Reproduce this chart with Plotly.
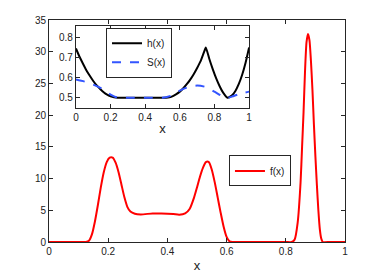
import plotly.graph_objects as go

# main curve f(x)
fx = [0, 0.05, 0.1, 0.125, 0.135, 0.145, 0.155, 0.165, 0.175, 0.185, 0.195, 0.205, 0.215,
      0.225, 0.235, 0.245, 0.255, 0.265, 0.275, 0.29, 0.31, 0.35, 0.38, 0.42, 0.44, 0.46,
      0.475, 0.49, 0.5, 0.51, 0.52, 0.53, 0.54, 0.55, 0.56, 0.57, 0.58, 0.59, 0.6, 0.61,
      0.62, 0.7, 0.8, 0.82, 0.83, 0.84, 0.85, 0.855, 0.86, 0.865, 0.87, 0.875, 0.88, 0.885,
      0.89, 0.895, 0.9, 0.905, 0.91, 0.915, 0.92, 0.925, 0.95, 1.0]
fy = [0, 0, 0, 0, 0.2, 1.2, 3.2, 5.8, 8.6, 11.0, 12.6, 13.3, 13.3,
      12.5, 11.0, 9.0, 7.0, 5.5, 4.8, 4.45, 4.35, 4.5, 4.5, 4.4, 4.3, 4.5,
      5.2, 7.0, 8.6, 10.3, 11.7, 12.6, 12.6, 11.4, 9.4, 7.0, 4.6, 2.4, 0.8, 0.1,
      0, 0, 0, 0, 0.4, 3.0, 9.5, 15.0, 20.5, 27.0, 31.5, 32.8, 31.8, 28.5,
      24.0, 18.5, 13.5, 9.0, 5.0, 2.0, 0.5, 0, 0, 0]

# inset curves
hx = [0, 0.02, 0.04, 0.06, 0.08, 0.1, 0.12, 0.14, 0.16, 0.18, 0.2, 0.22, 0.24, 0.3, 0.4,
      0.5, 0.52, 0.54, 0.56, 0.58, 0.6, 0.62, 0.64, 0.66, 0.68, 0.7, 0.72, 0.74, 0.75,
      0.77, 0.79, 0.81, 0.83, 0.85, 0.875, 0.9, 0.92, 0.94, 0.96, 0.98, 1.0]
hy = [0.745, 0.705, 0.67, 0.637, 0.609, 0.583, 0.561, 0.543, 0.527, 0.515, 0.507, 0.502, 0.5,
      0.5, 0.5, 0.5, 0.5, 0.502, 0.508, 0.518, 0.53, 0.547, 0.567, 0.59, 0.617, 0.648,
      0.682, 0.728, 0.75, 0.694, 0.642, 0.596, 0.557, 0.525, 0.5, 0.51, 0.532, 0.567, 0.614,
      0.675, 0.75]
sx = [0, 0.05, 0.1, 0.15, 0.2, 0.24, 0.3, 0.4, 0.5, 0.55, 0.6, 0.65, 0.7, 0.75, 0.8,
      0.85, 0.875, 0.9, 0.95, 1.0]
sy = [0.59, 0.58, 0.565, 0.545, 0.515, 0.5, 0.5, 0.5, 0.5, 0.51, 0.535, 0.553, 0.56,
      0.553, 0.53, 0.505, 0.5, 0.505, 0.52, 0.53]

main_xticks = [0, 0.2, 0.4, 0.6, 0.8, 1]
main_xlabels = ["0", "0.2", "0.4", "0.6", "0.8", "1"]
main_yticks = [0, 5, 10, 15, 20, 25, 30, 35]
inset_yticks = [0.5, 0.6, 0.7, 0.8]

FONT = "Liberation Sans, Arial, sans-serif"
AX = "#262626"

fig = go.Figure()
fig.add_trace(go.Scatter(x=fx, y=fy, mode="lines", name="f(x)", showlegend=True,
                         line=dict(color="#ff0000", width=2, shape="spline", smoothing=0.6),
                         xaxis="x", yaxis="y", legend="legend"))
fig.add_trace(go.Scatter(x=hx, y=hy, mode="lines", name="h(x)", showlegend=True,
                         line=dict(color="black", width=2, shape="spline", smoothing=0.5),
                         xaxis="x2", yaxis="y2", legend="legend2"))
fig.add_trace(go.Scatter(x=sx, y=sy, mode="lines", name="S(x)", showlegend=True,
                         line=dict(color="#3355ff", width=2, dash="dash", shape="spline", smoothing=0.8),
                         xaxis="x2", yaxis="y2", legend="legend2"))

axcommon = dict(showline=True, linecolor=AX, linewidth=1, mirror="ticks", ticks="inside",
                ticklen=4, tickcolor=AX, showgrid=False, zeroline=False, automargin=False,
                tickfont=dict(family=FONT, size=10, color="#222"))

# page body has an 8px margin, so the figure is sized to fit the 382x273 window
fig.update_layout(
    width=374, height=265,
    showlegend=True,
    margin=dict(l=41, r=37, t=12, b=31, autoexpand=False),
    plot_bgcolor="white", paper_bgcolor="white",
    font=dict(family=FONT, size=10, color="#222"),
    xaxis=dict(range=[0, 1], tickvals=main_xticks, ticktext=main_xlabels, domain=[0, 1],
               title=dict(text="x", font=dict(size=13, family=FONT), standoff=4), **axcommon),
    yaxis=dict(range=[0, 35], tickvals=main_yticks, domain=[0, 1], **axcommon),
    xaxis2=dict(range=[0, 1], tickvals=main_xticks, ticktext=main_xlabels, domain=[0.091, 0.676],
                anchor="y2", title=dict(text="x", font=dict(size=13, family=FONT), standoff=2),
                **axcommon),
    yaxis2=dict(range=[0.45, 0.855], tickvals=inset_yticks, domain=[0.605, 0.971], anchor="x2",
                **axcommon),
    legend=dict(x=0.608, y=0.39, xanchor="left", yanchor="top", bordercolor=AX, borderwidth=1,
                bgcolor="white", font=dict(family=FONT, size=10), tracegroupgap=0,
                itemwidth=30),
    legend2=dict(x=0.1926, y=0.965, xanchor="left", yanchor="top", bordercolor=AX, borderwidth=1,
                 bgcolor="white", font=dict(family=FONT, size=10), tracegroupgap=0,
                 itemwidth=30),
)

fig.write_html("out.html")
